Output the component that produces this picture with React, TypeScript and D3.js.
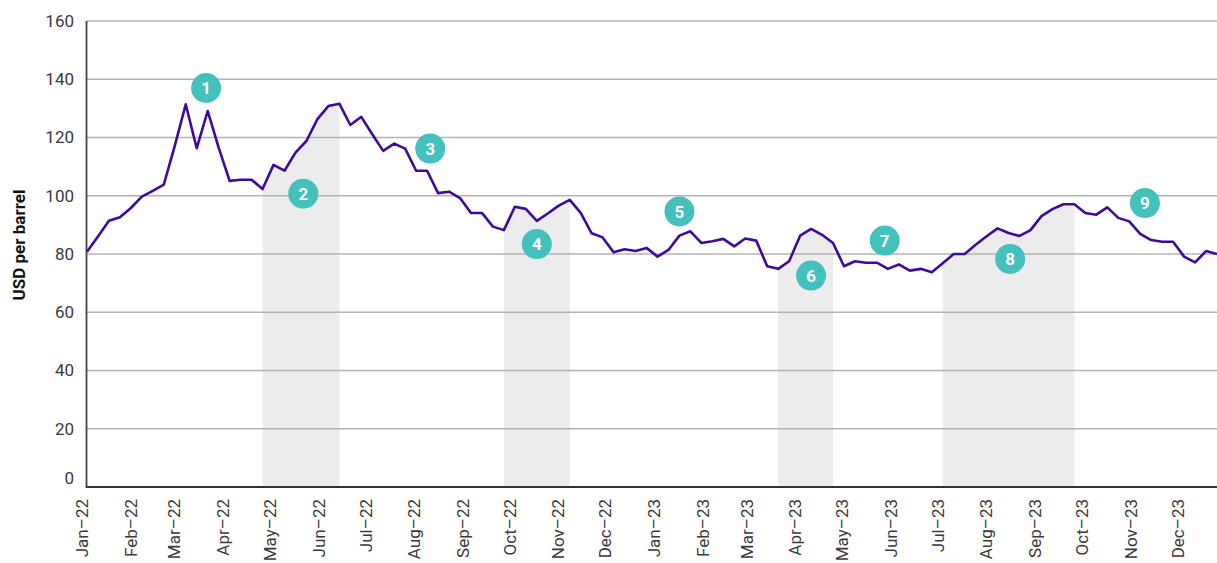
import React from 'react';
import * as d3 from 'd3';

// weekly Brent price, USD per barrel, first week of Jan 2022 onward
const prices = [
  80.8, 86.0, 91.4, 92.6, 95.8, 99.7, 101.7, 103.8, 117.1, 131.4,
  116.3, 129.1, 116.5, 105.1, 105.5, 105.5, 102.3, 110.6, 108.6, 114.8,
  118.8, 126.3, 130.8, 131.6, 124.3, 127.1, 121.1, 115.4, 117.9, 116.2,
  108.6, 108.6, 100.9, 101.4, 99.2, 94.1, 94.1, 89.4, 88.2, 96.2,
  95.5, 91.4, 93.9, 96.6, 98.6, 94.1, 87.1, 85.7, 80.6, 81.6,
  81.0, 82.1, 79.1, 81.4, 86.3, 87.8, 83.8, 84.4, 85.2, 82.6,
  85.3, 84.6, 75.8, 74.9, 77.5, 86.3, 88.6, 86.6, 83.8, 75.8,
  77.5, 77.0, 77.0, 74.9, 76.4, 74.3, 74.9, 73.7, 76.8, 80.0,
  80.0, 83.2, 86.1, 88.8, 87.2, 86.2, 88.2, 93.0, 95.4, 97.1,
  97.1, 94.1, 93.5, 96.0, 92.4, 91.2, 86.9, 84.8, 84.2, 84.2,
  79.1, 77.1, 81.0, 80.0,
];
const firstWeek = '2022-01-01';

// shaded periods (area under the line)
const shadeStart = ['2022-04-23', '2022-09-24', '2023-03-18', '2023-07-01'];
const shadeEnd = ['2022-06-11', '2022-11-05', '2023-04-22', '2023-09-23'];

// numbered markers
const noteLabels = ['1', '2', '3', '4', '5', '6', '7', '8', '9'];
const noteDates = [
  '2022-03-18', '2022-05-19', '2022-08-08', '2022-10-15', '2023-01-14',
  '2023-04-08', '2023-05-25', '2023-08-13', '2023-11-07',
];
const noteValues = [137.0, 100.7, 116.2, 83.4, 94.6, 72.6, 84.6, 78.3, 97.5];

const yTicks = [0, 20, 40, 60, 80, 100, 120, 140, 160];

const W = 1217;
const H = 563;
const font = 'Roboto, "Noto Sans", sans-serif';

export default function App() {
  const parse = d3.utcParse('%Y-%m-%d');
  const start = parse(firstWeek) as Date;
  const data = prices.map((v, i) => ({ date: d3.utcDay.offset(start, 7 * i), v }));

  const x = d3.scaleUtc()
    .domain([data[0].date, data[data.length - 1].date])
    .range([87, W]);
  const y = d3.scaleLinear().domain([0, 160]).range([487, 21]);

  const line = d3.line<{ date: Date; v: number }>()
    .x(d => x(d.date))
    .y(d => y(d.v));
  const area = d3.area<{ date: Date; v: number }>()
    .x(d => x(d.date))
    .y0(y(0))
    .y1(d => y(d.v));

  const months = d3.utcMonth.range(parse('2022-01-01') as Date, parse('2024-01-01') as Date);
  const fmt = d3.utcFormat('%b–%y');

  return (
    <svg width={W} height={H} style={{ position: 'absolute', left: 0, top: 0, overflow: 'hidden' }}
      fontFamily={font}>
      <rect width={W} height={H} fill="#fff" />

      {shadeStart.map((s, i) => {
        const a = parse(s) as Date;
        const b = parse(shadeEnd[i]) as Date;
        const seg = data.filter(d => d.date >= a && d.date <= b);
        return <path key={'s' + i} d={area(seg) || ''} fill="#ECECEC" />;
      })}

      {yTicks.filter(t => t > 0).map(t => (
        <line key={'g' + t} x1={87} x2={W} y1={y(t)} y2={y(t)} stroke="#B4B4B4" strokeWidth={1.5} />
      ))}

      {yTicks.map(t => (
        <text key={'y' + t} x={74} y={y(t)} dy={t === 0 ? '-0.2em' : '0.35em'} textAnchor="end"
          fontSize={17} fill="#3a3a3a">{t}</text>
      ))}

      <line x1={86.5} x2={86.5} y1={y(160)} y2={y(0) + 1} stroke="#444" strokeWidth={1.8} />
      <line x1={86} x2={W} y1={y(0)} y2={y(0)} stroke="#333" strokeWidth={2} />

      {months.map(m => (
        <text key={m.toISOString()} transform={`translate(${x(m) + 1},499) rotate(-90)`}
          textAnchor="end" fontSize={17} fill="#3a3a3a">{fmt(m)}</text>
      ))}

      <text transform="translate(25,245) rotate(-90)" textAnchor="middle" fontSize={17}
        fontWeight="bold" fill="#111">USD per barrel</text>

      <path d={line(data) || ''} fill="none" stroke="#3F0A9C" strokeWidth={2.6}
        strokeLinejoin="round" />

      {noteLabels.map((n, i) => {
        const cx = x(parse(noteDates[i]) as Date);
        const cy = y(noteValues[i]);
        return (
          <g key={'n' + n} transform={`translate(${cx},${cy})`}>
            <circle r={15} fill="#44C0BD" />
            <text dy="0.36em" textAnchor="middle" fontSize={17} fontWeight="bold" fill="#fff">{n}</text>
          </g>
        );
      })}
    </svg>
  );
}
